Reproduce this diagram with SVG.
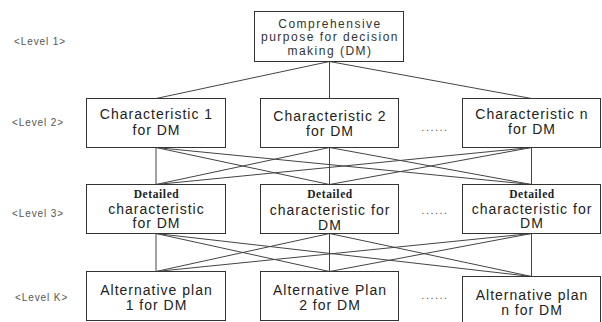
<svg xmlns="http://www.w3.org/2000/svg" width="602" height="322" viewBox="0 0 602 322">
<style>
.box{fill:#fff;stroke:#333;stroke-width:1}
.t{font-family:"Liberation Sans",Arial,sans-serif;font-size:14px;letter-spacing:1px;fill:#222;text-anchor:middle}
.ts{font-family:"Liberation Sans",Arial,sans-serif;font-size:12px;letter-spacing:1.5px;fill:#333;text-anchor:middle}
.d{font-family:"Liberation Serif","Times New Roman",serif;font-size:11.5px;font-weight:bold;letter-spacing:0.6px;fill:#222;text-anchor:middle}
.lv{font-family:"Liberation Sans",Arial,sans-serif;font-size:10px;letter-spacing:0.9px;fill:#555}
.dots{font-family:"Liberation Sans",Arial,sans-serif;font-size:11px;letter-spacing:1.5px;fill:#555;text-anchor:middle}
.c line{stroke:#444;stroke-width:1}
</style>
<rect width="602" height="322" fill="#fff"/>
<g id="connectors" class="c">
<line x1="329.5" y1="61.5" x2="156" y2="98.5"/>
<line x1="329.5" y1="61.5" x2="329.5" y2="98.5"/>
<line x1="329.5" y1="61.5" x2="531.5" y2="98.5"/>
<line x1="156" y1="147.5" x2="156" y2="184.5"/>
<line x1="156" y1="147.5" x2="329.5" y2="184.5"/>
<line x1="156" y1="147.5" x2="531.5" y2="184.5"/>
<line x1="329.5" y1="147.5" x2="156" y2="184.5"/>
<line x1="329.5" y1="147.5" x2="329.5" y2="184.5"/>
<line x1="329.5" y1="147.5" x2="531.5" y2="184.5"/>
<line x1="531.5" y1="147.5" x2="156" y2="184.5"/>
<line x1="531.5" y1="147.5" x2="329.5" y2="184.5"/>
<line x1="531.5" y1="147.5" x2="531.5" y2="184.5"/>
<line x1="156" y1="233.5" x2="156" y2="271.5"/>
<line x1="156" y1="233.5" x2="329.5" y2="271.5"/>
<line x1="156" y1="233.5" x2="531.5" y2="276.5"/>
<line x1="329.5" y1="233.5" x2="156" y2="271.5"/>
<line x1="329.5" y1="233.5" x2="329.5" y2="271.5"/>
<line x1="329.5" y1="233.5" x2="531.5" y2="276.5"/>
<line x1="531.5" y1="233.5" x2="156" y2="271.5"/>
<line x1="531.5" y1="233.5" x2="329.5" y2="271.5"/>
<line x1="531.5" y1="233.5" x2="531.5" y2="276.5"/>
</g>
<g id="labels">
<text class="lv" x="14" y="44.5">&lt;Level 1&gt;</text>
<text class="lv" x="12" y="126">&lt;Level 2&gt;</text>
<text class="lv" x="12" y="216.5">&lt;Level 3&gt;</text>
<text class="lv" x="15" y="301">&lt;Level K&gt;</text>
<text class="dots" x="435" y="131">......</text>
<text class="dots" x="435" y="214">......</text>
<text class="dots" x="435" y="299">......</text>
</g>
<g id="n1">
<rect class="box" x="254.5" y="11.5" width="149" height="50"/>
<text class="ts" x="330" y="28">Comprehensive</text>
<text class="ts" x="330" y="41">purpose for decision</text>
<text class="ts" x="330" y="54.5">making (DM)</text>
</g>
<g id="n2a">
<rect class="box" x="86.5" y="98.5" width="139" height="49"/>
<text class="t" x="156.5" y="119">Characteristic 1</text>
<text class="t" x="156.5" y="135">for DM</text>
</g>
<g id="n2b">
<rect class="box" x="260.5" y="98.5" width="138" height="49"/>
<text class="t" x="330" y="121">Characteristic 2</text>
<text class="t" x="330" y="136">for DM</text>
</g>
<g id="n2n">
<rect class="box" x="462.5" y="98.5" width="138" height="49"/>
<text class="t" x="532" y="119">Characteristic n</text>
<text class="t" x="532" y="134">for DM</text>
</g>
<g id="n3a">
<rect class="box" x="86.5" y="184.5" width="139" height="49"/>
<text class="d" x="156.5" y="197.5">Detailed</text>
<text class="t" x="156.5" y="213.5">characteristic</text>
<text class="t" x="156.5" y="228">for DM</text>
</g>
<g id="n3b">
<rect class="box" x="260.5" y="184.5" width="138" height="49"/>
<text class="d" x="330" y="198">Detailed</text>
<text class="t" x="330" y="215">characteristic for</text>
<text class="t" x="330" y="230">DM</text>
</g>
<g id="n3n">
<rect class="box" x="462.5" y="184.5" width="138" height="49"/>
<text class="d" x="532" y="197.5">Detailed</text>
<text class="t" x="532" y="213.5">characteristic for</text>
<text class="t" x="532" y="228">DM</text>
</g>
<g id="nKa">
<rect class="box" x="86.5" y="271.5" width="139" height="49"/>
<text class="t" x="156.5" y="295">Alternative plan</text>
<text class="t" x="156.5" y="310">1 for DM</text>
</g>
<g id="nKb">
<rect class="box" x="260.5" y="271.5" width="138" height="49"/>
<text class="t" x="330" y="295">Alternative Plan</text>
<text class="t" x="330" y="310">2 for DM</text>
</g>
<g id="nKn">
<rect class="box" x="462.5" y="276.5" width="138" height="50"/>
<text class="t" x="532" y="300">Alternative plan</text>
<text class="t" x="532" y="315">n for DM</text>
</g>
</svg>
